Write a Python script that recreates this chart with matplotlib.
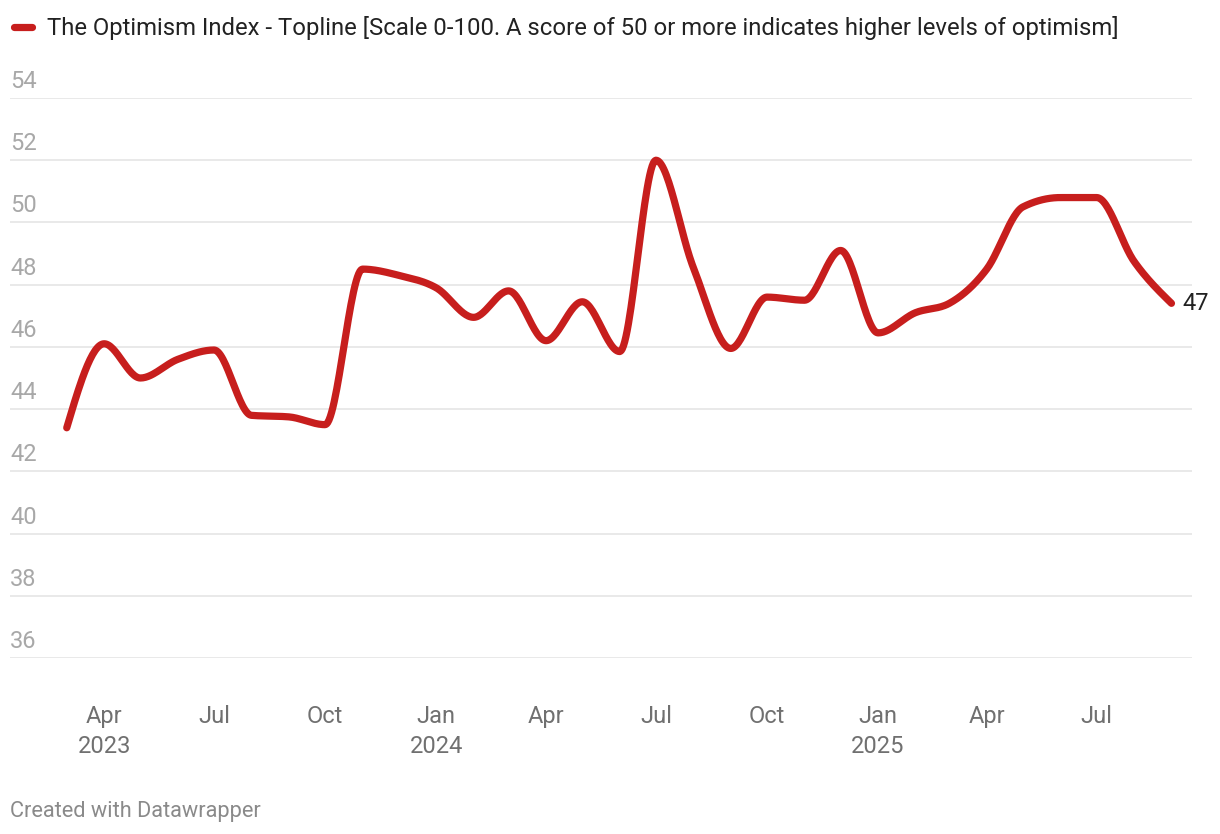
import numpy as np
import pandas as pd
import matplotlib
matplotlib.use("Agg")
import matplotlib.pyplot as plt
import matplotlib.dates as mdates
from matplotlib.lines import Line2D

plt.rcParams['font.family'] = ['Roboto', 'DejaVu Sans']

# data (monthly)
dates = pd.date_range("2023-03-01", "2025-09-01", freq="MS")
values = [43.4, 46.1, 45.0, 45.6, 45.9, 43.8, 43.75, 43.5, 48.5, 48.3,
          47.9, 46.95, 47.8, 46.2, 47.45, 45.85, 52.0, 48.55, 45.95, 47.6,
          47.5, 49.1, 46.45, 47.1, 47.4, 48.5, 50.5, 50.8, 50.8, 48.75, 47.4]
series_name = "The Optimism Index - Topline [Scale 0-100. A score of 50 or more indicates higher levels of optimism]"
y_ticks = [36, 38, 40, 42, 44, 46, 48, 50, 52, 54]
x_tick_dates = ["2023-04-01", "2023-07-01", "2023-10-01", "2024-01-01", "2024-04-01",
                "2024-07-01", "2024-10-01", "2025-01-01", "2025-04-01", "2025-07-01"]
x_tick_labels = ["Apr\n2023", "Jul", "Oct", "Jan\n2024", "Apr",
                 "Jul", "Oct", "Jan\n2025", "Apr", "Jul"]

RED = "#c71e1d"


def monotone_curve(x, y, n=30):
    # same idea as d3.curveMonotoneX
    x = np.asarray(x, float)
    y = np.asarray(y, float)
    h = np.diff(x)
    s = np.diff(y) / h
    t = np.zeros(len(x))
    for i in range(1, len(x) - 1):
        p = (s[i-1] * h[i] + s[i] * h[i-1]) / (h[i-1] + h[i])
        t[i] = (np.sign(s[i-1]) + np.sign(s[i])) * min(abs(s[i-1]), abs(s[i]), 0.5 * abs(p))
    t[0] = (3 * s[0] - t[1]) / 2
    t[-1] = (3 * s[-1] - t[-2]) / 2
    xs, ys = [], []
    u = np.linspace(0, 1, n)
    for i in range(len(x) - 1):
        dx = h[i] / 3
        px = [x[i], x[i] + dx, x[i+1] - dx, x[i+1]]
        py = [y[i], y[i] + dx * t[i], y[i+1] - dx * t[i+1], y[i+1]]
        b = [(1-u)**3, 3*(1-u)**2*u, 3*(1-u)*u**2, u**3]
        xs.append(sum(bk * pk for bk, pk in zip(b, px)))
        ys.append(sum(bk * pk for bk, pk in zip(b, py)))
    return np.concatenate(xs), np.concatenate(ys)


W, H = 1220, 834
fig = plt.figure(figsize=(W / 100, H / 100), dpi=100)
ax = fig.add_axes([10 / W, (H - 658) / H, (1192 - 10) / W, (658 - 98) / H])

xn = mdates.date2num(dates)
cx, cy = monotone_curve(xn, values)
ax.plot(cx, cy, color=RED, lw=5.2, solid_capstyle='round', solid_joinstyle='round', zorder=3)

ax.set_ylim(36, 54)
ax.set_xlim(xn[0] - 47, xn[-1] + 17)
ax.set_yticks(y_ticks)
ax.grid(axis='y', color='#e3e3e3', lw=1.1)
ax.tick_params(axis='y', length=0, labelleft=False)
for s in ax.spines.values():
    s.set_visible(False)

# y labels sit above the grid lines
for v in y_ticks:
    ax.annotate(str(v), xy=(0, v), xycoords=ax.get_yaxis_transform(),
                xytext=(0, 3.6), textcoords='offset points',
                ha='left', va='bottom', fontsize=17, color='#a8a8a8')

ax.set_xticks(mdates.date2num(pd.to_datetime(x_tick_dates)))
ax.set_xticklabels(x_tick_labels, fontsize=17, color='#707070', linespacing=1.35)
ax.tick_params(axis='x', length=0, pad=34)

# end value label
ax.annotate(f"{values[-1]:.0f}", xy=(xn[-1], values[-1]), xytext=(8, 0),
            textcoords='offset points', ha='left', va='center',
            fontsize=17, color='#222222')

# legend / title row
fig.add_artist(Line2D([13.5 / W, 31.5 / W], [1 - 27 / H] * 2, color=RED, lw=5.2,
                      solid_capstyle='round', transform=fig.transFigure))
fig.text(47 / W, 1 - 28 / H, series_name, ha='left', va='center',
         fontsize=17.2, color='#222222')

fig.text(10 / W, 1 - 811 / H, "Created with Datawrapper", ha='left', va='center',
         fontsize=15.7, color='#8a8a8a')

fig.savefig("out.png", dpi=100, facecolor='white')
